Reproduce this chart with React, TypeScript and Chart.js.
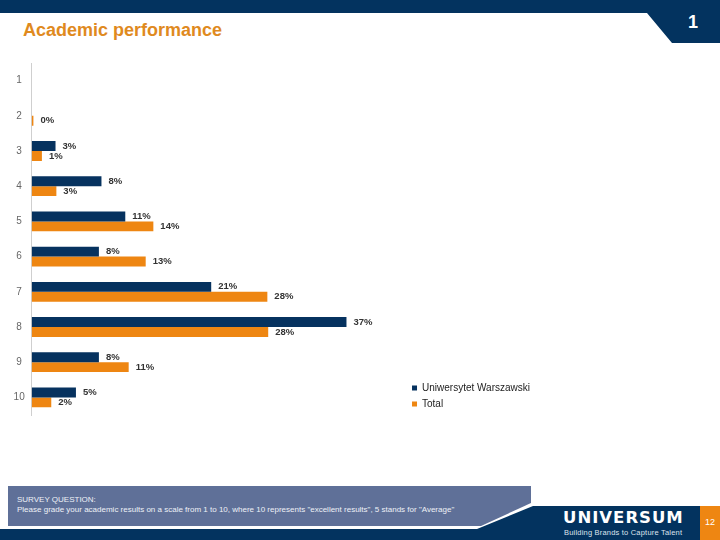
import { useEffect, useRef } from "react"
import { Chart, registerables, type ChartConfiguration, type Plugin } from "chart.js"

Chart.register(...registerables)

const FONT = '"Liberation Sans", Arial, sans-serif'

// grades on the 1-10 scale
const grades = ["1", "2", "3", "4", "5", "6", "7", "8", "9", "10"]
const seriesNames = ["Uniwersytet Warszawski", "Total"]
// share of respondents, % (labels are rounded)
const uwValues = [null, null, 2.8, 8.2, 11.0, 7.9, 21.1, 37.0, 7.9, 5.2]
const totalValues = [null, 0.2, 1.2, 2.9, 14.3, 13.4, 27.7, 27.8, 11.4, 2.3]

const NAVY = "#06325f"
const ORANGE = "#ee8612"

// draws "37%" etc. just right of each bar end
const valueLabels: Plugin<"bar"> = {
  id: "valueLabels",
  afterDatasetsDraw(chart) {
    const ctx = chart.ctx
    ctx.save()
    ctx.font = `bold 9.5px ${FONT}`
    ctx.fillStyle = "#333"
    ctx.textBaseline = "middle"
    ctx.textAlign = "left"
    chart.data.datasets.forEach((ds, i) => {
      const meta = chart.getDatasetMeta(i)
      meta.data.forEach((bar, j) => {
        const v = ds.data[j] as number | null
        if (v == null) return
        ctx.fillText(`${Math.round(v)}%`, bar.x + 7, bar.y)
      })
    })
    ctx.restore()
  },
}

function GradeChart() {
  const canvasRef = useRef<HTMLCanvasElement>(null)
  const chartRef = useRef<Chart | null>(null)

  useEffect(() => {
    if (!canvasRef.current) return
    if (chartRef.current) chartRef.current.destroy()

    const config: ChartConfiguration<"bar", (number | null)[], string> = {
      type: "bar",
      data: {
        labels: grades,
        datasets: [
          {
            label: seriesNames[0],
            data: uwValues,
            backgroundColor: NAVY,
            borderWidth: 0,
            categoryPercentage: 0.563,
            barPercentage: 1,
          },
          {
            label: seriesNames[1],
            data: totalValues,
            backgroundColor: ORANGE,
            borderWidth: 0,
            categoryPercentage: 0.563,
            barPercentage: 1,
          },
        ],
      },
      options: {
        indexAxis: "y",
        responsive: false,
        animation: false,
        layout: { padding: { top: 10.3, bottom: 15, left: 0, right: 0 } },
        scales: {
          x: { display: false, min: 0, max: 44 },
          y: {
            type: "category",
            grid: { display: false, drawTicks: false },
            border: { display: true, color: "#cfcfcf", width: 1 },
            ticks: {
              color: "#666",
              font: { size: 10, family: FONT },
              crossAlign: "center",
              padding: 7,
            },
            afterFit: (scale) => {
              scale.width = 31.7
            },
          },
        },
        plugins: {
          tooltip: { enabled: false },
          legend: {
            position: "right",
            align: "end",
            labels: {
              boxWidth: 5,
              boxHeight: 5,
              padding: 6,
              color: "#222",
              font: { size: 10, family: FONT },
            },
          },
        },
      },
      plugins: [valueLabels],
    }

    chartRef.current = new Chart(canvasRef.current, config)

    return () => {
      if (chartRef.current) {
        chartRef.current.destroy()
        chartRef.current = null
      }
    }
  }, [])

  return (
    <div style={{ position: "absolute", left: 0, top: 50 }}>
      <canvas ref={canvasRef} width={540} height={380} />
    </div>
  )
}

export default function App() {
  return (
    <div
      style={{
        position: "fixed",
        left: 0,
        top: 0,
        width: 720,
        height: 540,
        background: "#fff",
        fontFamily: FONT,
        overflow: "hidden",
      }}
    >
      <svg width={720} height={540} style={{ position: "absolute", left: 0, top: 0 }}>
        <polygon points="0,0 720,0 720,43 672,43 647,13 0,13" fill="#03335f" />
        <polygon points="8,486 531,486 531,503 481,526 8,526" fill="#5f7098" />
        <polygon points="0,529 477,529 533,506 700,506 700,540 0,540" fill="#03335f" />
        <rect x={700} y={506} width={20} height={34} fill="#ee8612" />
      </svg>

      <div
        style={{
          position: "absolute",
          left: 23,
          top: 20,
          fontSize: 18,
          lineHeight: "21px",
          fontWeight: "bold",
          color: "#df8a1e",
        }}
      >
        Academic performance
      </div>
      <div
        style={{
          position: "absolute",
          left: 684,
          top: 12,
          width: 18,
          textAlign: "center",
          fontSize: 18,
          fontWeight: "bold",
          color: "#fff",
        }}
      >
        1
      </div>

      <GradeChart />

      <div
        style={{
          position: "absolute",
          left: 17,
          top: 495,
          fontSize: 8,
          lineHeight: "10px",
          color: "#eef1f7",
          whiteSpace: "nowrap",
        }}
      >
        <div>SURVEY QUESTION:</div>
        <div>
          Please grade your academic results on a scale from 1 to 10, where 10 represents "excellent results", 5
          stands for "Average"
        </div>
      </div>

      <div
        style={{
          position: "absolute",
          left: 563,
          top: 509,
          fontFamily: '"DejaVu Sans", sans-serif',
          fontSize: 16.5,
          fontWeight: "bold",
          color: "#fff",
          letterSpacing: 1,
          lineHeight: "18px",
        }}
      >
        UNIVERSUM
      </div>
      <div
        style={{
          position: "absolute",
          left: 564,
          top: 528,
          fontSize: 7.5,
          color: "#dde3ee",
          whiteSpace: "nowrap",
          letterSpacing: 0.2,
        }}
      >
        Building Brands to Capture Talent
      </div>
      <div
        style={{
          position: "absolute",
          left: 700,
          top: 517,
          width: 20,
          textAlign: "center",
          fontSize: 9,
          color: "#fff",
        }}
      >
        12
      </div>
    </div>
  )
}
